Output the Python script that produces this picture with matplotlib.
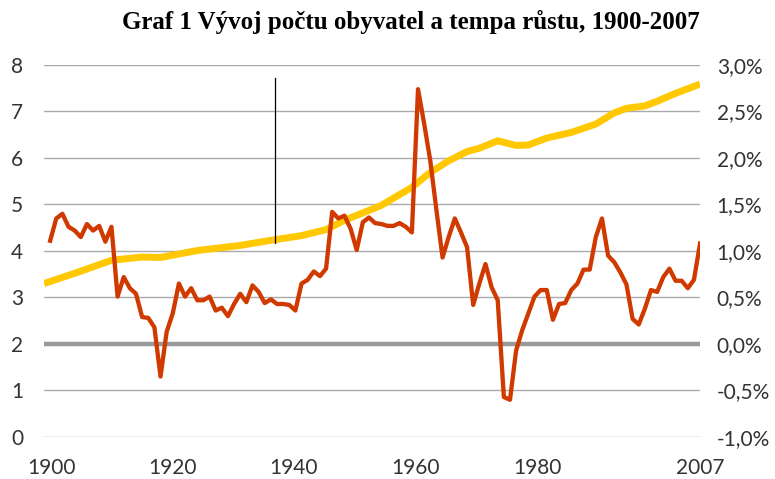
import matplotlib.pyplot as plt
import matplotlib.transforms as mtransforms
from matplotlib.ticker import FuncFormatter

# tempo rustu (%), roky 1901-2007
rust_roky = list(range(1901, 2008))
rust = [1.11, 1.35, 1.40, 1.26, 1.22, 1.15, 1.29, 1.22, 1.27, 1.10,
        1.26, 0.51, 0.72, 0.60, 0.54, 0.29, 0.28, 0.18, -0.35, 0.13,
        0.33, 0.65, 0.51, 0.60, 0.47, 0.47, 0.51, 0.36, 0.39, 0.30,
        0.43, 0.54, 0.45, 0.63, 0.56, 0.44, 0.48, 0.43, 0.43, 0.42,
        0.36, 0.65, 0.69, 0.78, 0.73, 0.81, 1.42, 1.35, 1.38, 1.24,
        1.01, 1.31, 1.36, 1.30, 1.29, 1.27, 1.27, 1.30, 1.26, 1.20,
        2.74, 2.37, 1.97, 1.44, 0.93, 1.15, 1.35, 1.20, 1.04, 0.42,
        0.65, 0.86, 0.61, 0.47, -0.57, -0.60, -0.07, 0.15, 0.33, 0.51,
        0.58, 0.58, 0.26, 0.43, 0.44, 0.58, 0.65, 0.80, 0.80, 1.15,
        1.35, 0.95, 0.88, 0.77, 0.64, 0.27, 0.21, 0.38, 0.58, 0.56,
        0.72, 0.81, 0.68, 0.68, 0.60, 0.69, 1.08]

# pocet obyvatel (leva osa)
obyv_roky = [1900, 1905, 1911, 1916, 1919, 1925, 1932, 1937, 1942, 1946,
             1949, 1955, 1960, 1963, 1966, 1969, 1971, 1974, 1977, 1979,
             1982, 1986, 1990, 1993, 1995, 1998, 2000, 2003, 2007]
obyv = [3.30, 3.52, 3.80, 3.87, 3.86, 4.01, 4.12, 4.23, 4.33, 4.46,
        4.66, 4.98, 5.37, 5.69, 5.94, 6.14, 6.21, 6.37, 6.27, 6.28,
        6.43, 6.55, 6.73, 6.97, 7.07, 7.12, 7.22, 7.39, 7.59]

x_ticks = [1900, 1920, 1940, 1960, 1980, 2007]

fig = plt.figure(figsize=(7.75, 4.79), dpi=100)
ax = fig.add_axes([0.0568, 0.0877, 0.8465, 0.7766])
ax2 = ax.twinx()

ax.set_xlim(1900, 2007)
ax.set_ylim(0, 8)
ax2.set_ylim(-1, 3)

for v in range(0, 9):
    if v != 2:
        ax.axhline(v, color='#aaaaaa', lw=1, zorder=1)
ax.axhline(2, color='#999999', lw=3.2, zorder=2)

ax.plot(obyv_roky, obyv, color='#ffc800', lw=5, solid_capstyle='butt', zorder=3)
ax.plot([1937.7, 1937.7], [4.18, 7.72], color='black', lw=0.9, zorder=4)
ax2.plot(rust_roky, rust, color='#d03a00', lw=3.1, zorder=5)

ax.set_yticks(range(0, 9))
ax.set_xticks(x_ticks)
ax2.set_yticks([-1, -0.5, 0, 0.5, 1, 1.5, 2, 2.5, 3])
ax2.yaxis.set_major_formatter(FuncFormatter(lambda v, p: f"{v:.1f}%".replace('.', ',')))

for a in (ax, ax2):
    for s in a.spines.values():
        s.set_visible(False)
ax.tick_params(axis='y', length=0, pad=15, labelsize=15, labelcolor='#333333')
ax.tick_params(axis='x', length=0, pad=15, labelsize=15, labelcolor='#333333')
ax2.tick_params(axis='y', length=0, pad=12, labelsize=15, labelcolor='#333333')
for lab in ax.get_xticklabels() + ax.get_yticklabels() + ax2.get_yticklabels():
    lab.set_family('Lato')
# popisky osy x jsou v originale mirne posunute doprava
for lab, dx in zip(ax.get_xticklabels(), [7, 6, 4, 4, 3, 0]):
    lab.set_transform(lab.get_transform() + mtransforms.ScaledTranslation(dx / 100, 0, fig.dpi_scale_trans))

fig.text(0.530, 0.954, "Graf 1 Vývoj počtu obyvatel a tempa růstu, 1900-2007",
         ha='center', va='center', fontsize=18, fontweight='bold',
         family='Liberation Serif')

fig.savefig('out.png', dpi=100)
